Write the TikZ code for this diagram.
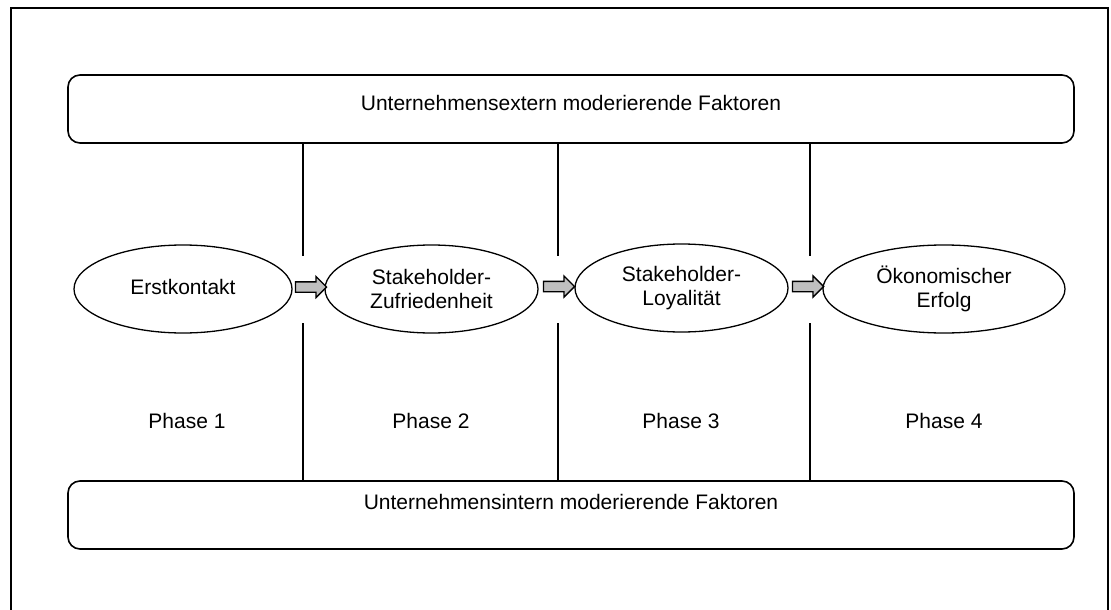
\documentclass[tikz,border=0pt]{standalone}
\usepackage{fontspec}
\setmainfont{Liberation Sans}
\usetikzlibrary{shapes.geometric,shapes.arrows}

\begin{document}
\begin{tikzpicture}[x=1pt,y=-1pt,
  txt/.style={font=\fontsize{21}{24}\selectfont, inner sep=0pt, align=center},
  frameline/.style={line width=1.6pt},
  factorbox/.style={draw, line width=1.6pt, rounded corners=12pt,
    minimum width=1006pt, minimum height=68pt, inner sep=0pt},
  stage/.style={draw, ellipse, line width=1.3pt, inner sep=0pt,
    minimum height=88pt, txt},
  divider/.style={line width=1.3pt},
  flow/.style={single arrow, draw, fill=gray!50, line width=1.3pt,
    text height=4.5pt, text depth=4.5pt, text width=0pt,
    single arrow head extend=5.5pt, single arrow head indent=0pt,
    minimum height=31pt, inner sep=0pt, outer sep=0pt}]

\useasboundingbox (0,0) rectangle (1111,610);

% outer frame, open at the bottom
\draw[frameline] (11,610) -- (11,8) -- (1108,8) -- (1108,610);

% moderating factor boxes
\node[factorbox] (ext) at (571,109) {};
\node[txt] (exttxt) at (571,103) {Unternehmensextern moderierende Faktoren};
\node[factorbox] (int) at (571,515) {};
\node[txt] (inttxt) at (571,502) {Unternehmensintern moderierende Faktoren};

% phase dividers
\foreach \x [count=\i] in {303,558,810} {
  \coordinate (da\i) at (\x,256);
  \coordinate (db\i) at (\x,323);
  \draw[divider] (ext.south -| da\i) -- (da\i);
  \draw[divider] (db\i) -- (int.north -| db\i);
}

% stages
\node[stage, minimum width=218pt] (s1) at (183,289) {\raisebox{5pt}{Erstkontakt}};
\node[stage, minimum width=213pt] (s2) at (431.5,289) {Stakeholder-\\Zufriedenheit};
\node[stage, minimum width=213pt] (s3) at (681.5,288) {Stakeholder-\\Loyalität};
\node[stage, minimum width=242pt] (s4) at (944,289) {Ökonomischer\\Erfolg};

% transitions
\path (s1.east) -- (s2.west) node[flow, midway, yshift=2pt] (a1) {};
\path (s2.east) -- (s3.west) node[flow, midway, yshift=2pt] (a2) {};
\path (s3.east) -- (s4.west) node[flow, midway, yshift=2pt] (a3) {};

% phase labels
\node[txt] (p1) at (187,421) {Phase 1};
\node[txt] (p2) at (431,421) {Phase 2};
\node[txt] (p3) at (681,421) {Phase 3};
\node[txt] (p4) at (944,421) {Phase 4};
\end{tikzpicture}
\end{document}
